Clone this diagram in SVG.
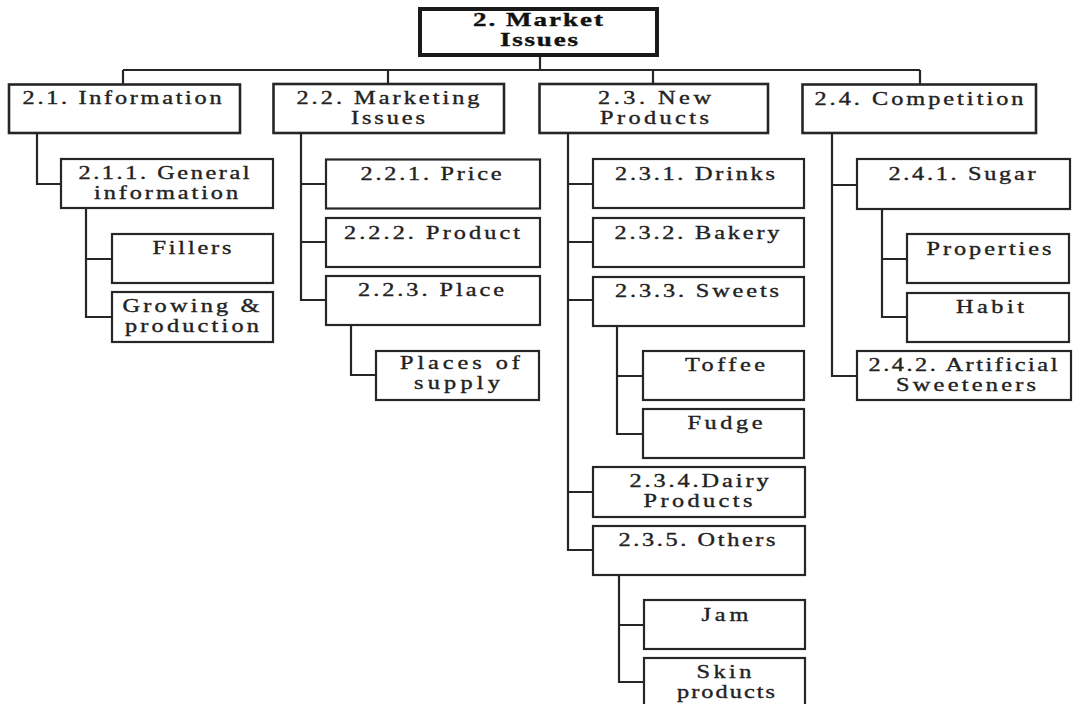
<svg xmlns="http://www.w3.org/2000/svg" width="1073" height="704" viewBox="0 0 1073 704">
  <style>
    .box { fill: #ffffff; stroke: #262626; stroke-width: 2.2; }
    .top { fill: #ffffff; stroke: #262626; stroke-width: 2.6; }
    .root { fill: #ffffff; stroke: #1a1a1a; stroke-width: 4; }
    .wire { fill: none; stroke: #262626; stroke-width: 2.2; }
    text { font-family: "Liberation Serif", "Times New Roman", serif; font-size: 18px; fill: #222222; stroke: #222222; stroke-width: 0.35; text-anchor: middle; }
    .b { font-weight: bold; fill: #111111; stroke: #111111; }
  </style>

  <rect width="1073" height="704" fill="#ffffff"/>

  <!-- tree connectors -->
  <g id="connectors" class="wire">
    <path d="M540 57 V70 M123 70 H920 M123 70 V84 M388 70 V83 M653 70 V83 M920 70 V84"/>
    <path d="M37 133 V184 H61"/>
    <path d="M86 208 V317 H112 M86 259 H112"/>
    <path d="M301 133 V300 H326 M301 184 H326 M301 242 H326"/>
    <path d="M351 325 V375 H376"/>
    <path d="M568 133 V550 H593 M568 184 H593 M568 242 H593 M568 300 H593 M568 492 H593"/>
    <path d="M617 326 V434 H643 M617 376 H643"/>
    <path d="M619 575 V682 H644 M619 625 H644"/>
    <path d="M832 133 V376 H857 M832 185 H857"/>
    <path d="M882 209 V317 H907 M882 259 H907"/>
  </g>

  <!-- labels use a widened face: regular text is scaled 1.35x horizontally, the root title 1.5x -->
  <g id="n2">
    <rect class="root" x="420" y="9" width="237" height="46"/>
    <text class="b" transform="scale(1.5 1)" x="358.7" y="26" textLength="86.7">2. Market</text>
    <text class="b" transform="scale(1.5 1)" x="359.3" y="46" textLength="52">Issues</text>
  </g>

  <g id="n2_1">
    <rect class="top" x="9" y="84.5" width="231" height="48.5"/>
    <text transform="scale(1.35 1)" x="90.4" y="104.5" textLength="147.4">2.1. Information</text>
  </g>
  <g id="n2_2">
    <rect class="top" x="273.5" y="84" width="230.5" height="49"/>
    <text transform="scale(1.35 1)" x="287.4" y="104.5" textLength="135.6">2.2. Marketing</text>
    <text transform="scale(1.35 1)" x="287.4" y="124.5" textLength="54.8">Issues</text>
  </g>
  <g id="n2_3">
    <rect class="top" x="539.5" y="84" width="228.5" height="49"/>
    <text transform="scale(1.35 1)" x="484.8" y="104.5" textLength="83.7">2.3. New</text>
    <text transform="scale(1.35 1)" x="484.8" y="124.5" textLength="80.7">Products</text>
  </g>
  <g id="n2_4">
    <rect class="top" x="802.5" y="84.5" width="233.5" height="48.5"/>
    <text transform="scale(1.35 1)" x="680.7" y="105" textLength="154.8">2.4. Competition</text>
  </g>

  <g id="n2_1_1">
    <rect class="box" x="61" y="159" width="212" height="49"/>
    <text transform="scale(1.35 1)" x="121.5" y="179.5" textLength="126.7">2.1.1. General</text>
    <text transform="scale(1.35 1)" x="123" y="199.5" textLength="106.7">information</text>
  </g>
  <g id="n_fillers">
    <rect class="box" x="112" y="234" width="161" height="49"/>
    <text transform="scale(1.35 1)" x="142.2" y="254" textLength="58.5">Fillers</text>
  </g>
  <g id="n_growing">
    <rect class="box" x="112" y="292" width="161" height="50"/>
    <text transform="scale(1.35 1)" x="141.5" y="312.5" textLength="101.5">Growing &amp;</text>
    <text transform="scale(1.35 1)" x="142.2" y="332.5" textLength="99.3">production</text>
  </g>

  <g id="n2_2_1">
    <rect class="box" x="326" y="159.5" width="214" height="49"/>
    <text transform="scale(1.35 1)" x="319.3" y="180" textLength="104.4">2.2.1. Price</text>
  </g>
  <g id="n2_2_2">
    <rect class="box" x="326" y="218" width="214" height="49"/>
    <text transform="scale(1.35 1)" x="320" y="239" textLength="130.4">2.2.2. Product</text>
  </g>
  <g id="n2_2_3">
    <rect class="box" x="326" y="276" width="214" height="49"/>
    <text transform="scale(1.35 1)" x="319.3" y="296" textLength="108.1">2.2.3. Place</text>
  </g>
  <g id="n_places">
    <rect class="box" x="376" y="351" width="163" height="49"/>
    <text transform="scale(1.35 1)" x="340.7" y="369" textLength="88.9">Places of</text>
    <text transform="scale(1.35 1)" x="338.5" y="389" textLength="63.7">supply</text>
  </g>

  <g id="n2_3_1">
    <rect class="box" x="593" y="159" width="211" height="49"/>
    <text transform="scale(1.35 1)" x="514.8" y="180" textLength="118.5">2.3.1. Drinks</text>
  </g>
  <g id="n2_3_2">
    <rect class="box" x="593" y="218" width="211" height="49"/>
    <text transform="scale(1.35 1)" x="516.3" y="239" textLength="122.2">2.3.2. Bakery</text>
  </g>
  <g id="n2_3_3">
    <rect class="box" x="593" y="277" width="211" height="49"/>
    <text transform="scale(1.35 1)" x="516.3" y="297" textLength="121.5">2.3.3. Sweets</text>
  </g>
  <g id="n_toffee">
    <rect class="box" x="643" y="351" width="161" height="49"/>
    <text transform="scale(1.35 1)" x="537" y="371" textLength="59.3">Toffee</text>
  </g>
  <g id="n_fudge">
    <rect class="box" x="643" y="409" width="161" height="49"/>
    <text transform="scale(1.35 1)" x="537" y="429" textLength="55.6">Fudge</text>
  </g>
  <g id="n2_3_4">
    <rect class="box" x="593" y="467" width="212" height="50"/>
    <text transform="scale(1.35 1)" x="517.8" y="487.5" textLength="103">2.3.4.Dairy</text>
    <text transform="scale(1.35 1)" x="517" y="507.5" textLength="80.7">Products</text>
  </g>
  <g id="n2_3_5">
    <rect class="box" x="593" y="526" width="212" height="49"/>
    <text transform="scale(1.35 1)" x="516.3" y="546" textLength="116.3">2.3.5. Others</text>
  </g>
  <g id="n_jam">
    <rect class="box" x="644" y="600" width="161" height="49"/>
    <text transform="scale(1.35 1)" x="537" y="621" textLength="34.8">Jam</text>
  </g>
  <g id="n_skin">
    <rect class="box" x="644" y="658" width="161" height="60"/>
    <text transform="scale(1.35 1)" x="536.3" y="678" textLength="40.7">Skin</text>
    <text transform="scale(1.35 1)" x="537.8" y="698" textLength="72.6">products</text>
  </g>

  <g id="n2_4_1">
    <rect class="box" x="857" y="159" width="213" height="50"/>
    <text transform="scale(1.35 1)" x="712.6" y="180" textLength="108.9">2.4.1. Sugar</text>
  </g>
  <g id="n_properties">
    <rect class="box" x="907" y="234" width="162" height="49"/>
    <text transform="scale(1.35 1)" x="732.6" y="255" textLength="92.6">Properties</text>
  </g>
  <g id="n_habit">
    <rect class="box" x="907" y="293" width="162" height="49"/>
    <text transform="scale(1.35 1)" x="733.3" y="313" textLength="50.4">Habit</text>
  </g>
  <g id="n2_4_2">
    <rect class="box" x="857" y="351" width="214" height="49"/>
    <text transform="scale(1.35 1)" x="713.3" y="371.5" textLength="140">2.4.2. Artificial</text>
    <text transform="scale(1.35 1)" x="715.6" y="391.5" textLength="103.7">Sweeteners</text>
  </g>
</svg>
